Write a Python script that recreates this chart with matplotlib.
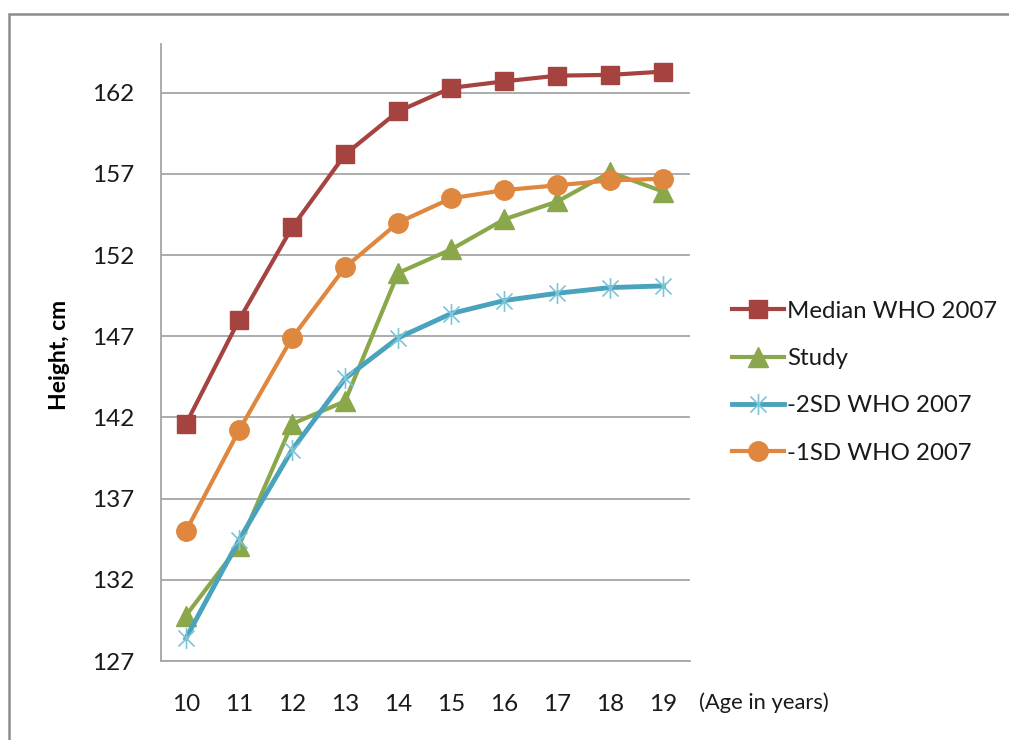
import numpy as np
import matplotlib
matplotlib.use('Agg')
import matplotlib.pyplot as plt
from matplotlib.path import Path
from matplotlib.patches import Rectangle

plt.rcParams['font.family'] = ['Lato', 'DejaVu Sans']

ages = [10, 11, 12, 13, 14, 15, 16, 17, 18, 19]
median_who = [141.6, 148.0, 153.7, 158.2, 160.85, 162.3, 162.7, 163.05, 163.1, 163.3]
study = [129.8, 134.1, 141.6, 143.0, 150.9, 152.35, 154.2, 155.3, 157.1, 155.9]
sd2_who = [128.4, 134.45, 140.0, 144.4, 146.9, 148.4, 149.2, 149.65, 150.0, 150.1]
sd1_who = [135.0, 141.2, 146.9, 151.25, 154.0, 155.5, 156.0, 156.3, 156.6, 156.7]
yticks = [127, 132, 137, 142, 147, 152, 157, 162]

# excel style star marker: X plus a vertical bar
star = Path([(-1, -1), (1, 1), (-1, 1), (1, -1), (0, -1.3), (0, 1.3)],
            [Path.MOVETO, Path.LINETO, Path.MOVETO, Path.LINETO, Path.MOVETO, Path.LINETO])

fig = plt.figure(figsize=(10.09, 7.4), dpi=100)
# outer chart border
fig.patches.append(Rectangle((9/1009, -0.05), 1.1, 1 - 14/740 + 0.05, transform=fig.transFigure,
                             fill=False, edgecolor='#8c8c8c', linewidth=1.8))
ax = fig.add_axes([161/1009, 1 - 661/740, (690-161)/1009, (661-44)/740])

x = np.arange(len(ages))
ax.plot(x, median_who, color='#A54341', lw=3, marker='s', ms=13, label='Median WHO 2007')
ax.plot(x, study, color='#8AA84B', lw=3, marker='^', ms=14, label='Study')
ax.plot(x, sd2_who, color='#4AA2BD', lw=3.5, marker=star, ms=15, mec='#7CC4D8', mew=1.2,
        label='-2SD WHO 2007')
ax.plot(x, sd1_who, color='#DF873E', lw=3, marker='o', ms=14, label='-1SD WHO 2007')

ax.set_xlim(-0.47, len(ages) - 0.5)
ax.set_ylim(127, 165)
ax.set_xticks(x)
ax.set_xticklabels([str(a) for a in ages])
ax.set_yticks(yticks)
ax.grid(axis='y', color='#a6a6a6', lw=1.3)
ax.set_axisbelow(True)
for s in ['top', 'right']:
    ax.spines[s].set_visible(False)
ax.spines['left'].set_color('#a6a6a6')
ax.spines['bottom'].set_color('#a6a6a6')
ax.spines['left'].set_linewidth(1.3)
ax.spines['bottom'].set_linewidth(1.3)
ax.tick_params(axis='both', length=0, labelsize=17.5, colors='#1a1a1a')
ax.tick_params(axis='y', pad=19)
ax.tick_params(axis='x', pad=24)

fig.text(60/1009, 1 - 355/740, 'Height, cm', rotation=90, fontsize=16.5, fontweight='bold',
         ha='center', va='center')
fig.text(699/1009, 1 - 703/740, '(Age in years)', fontsize=15.8, ha='left', va='center',
         color='#1a1a1a')

leg = ax.legend(loc='upper left', bbox_to_anchor=(722/1009, 1 - 291/740),
                bbox_transform=fig.transFigure, frameon=False, fontsize=17.3,
                handlelength=2.2, handletextpad=0.1, labelspacing=1.1, borderaxespad=0)
for t in leg.get_texts():
    t.set_color('#1a1a1a')

fig.savefig('out.png', dpi=100)
